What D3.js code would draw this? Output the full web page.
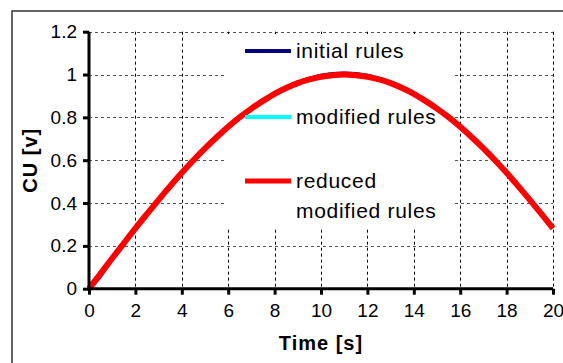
<!DOCTYPE html>
<html>
<head>
<meta charset="utf-8">
<script src="https://cdn.jsdelivr.net/npm/d3@7"></script>
<style>
  html, body { margin: 0; padding: 0; background: #fff; }
  svg { display: block; font-family: "Liberation Sans", Arial, sans-serif; }
</style>
</head>
<body>
<svg id="chart" width="563" height="363"></svg>
<script>
// Time samples [s]
const time = [0,0.5,1,1.5,2,2.5,3,3.5,4,4.5,5,5.5,6,6.5,7,7.5,8,8.5,9,9.5,10,
              10.5,11,11.5,12,12.5,13,13.5,14,14.5,15,15.5,16,16.5,17,17.5,18,18.5,19,19.5,20];
// Controller output for each rule set
const initialRules  = [0,0.062,0.142,0.212,0.282,0.349,0.415,0.479,0.541,0.600,0.655,0.707,0.756,0.801,0.841,0.877,0.912,0.940,0.963,0.980,0.994,
                       1.003,1.005,1.003,0.994,0.980,0.963,0.940,0.912,0.877,0.841,0.801,0.756,0.707,0.655,0.600,0.541,0.479,0.415,0.349,0.282];
const modifiedRules = [0,0.071,0.142,0.212,0.282,0.349,0.415,0.479,0.541,0.600,0.655,0.707,0.756,0.801,0.841,0.877,0.910,0.937,0.960,0.977,0.990,
                       0.997,1.0,0.997,0.990,0.977,0.960,0.937,0.910,0.877,0.841,0.801,0.756,0.707,0.655,0.600,0.541,0.479,0.415,0.349,0.282];
const reducedRules  = [0,0.071,0.142,0.212,0.282,0.349,0.415,0.479,0.541,0.600,0.655,0.707,0.756,0.801,0.841,0.877,0.910,0.937,0.960,0.977,0.990,
                       0.997,1.0,0.997,0.990,0.977,0.960,0.937,0.910,0.877,0.841,0.801,0.756,0.707,0.655,0.600,0.541,0.479,0.415,0.349,0.282];

const xTicks = [0,2,4,6,8,10,12,14,16,18,20];
const yTicks = [0,0.2,0.4,0.6,0.8,1,1.2];
const legendNames = ["initial rules", "modified rules", "reduced\nmodified rules"];
const seriesColors = ["#000080", "#00ffff", "#ff0000"];

const svg = d3.select("#chart");
const x = d3.scaleLinear().domain([0, 20]).range([89, 553]);
const y = d3.scaleLinear().domain([0, 1.2]).range([288.7, 31.7]);

// outer frame (left and top edges visible)
svg.append("path")
  .attr("d", "M12,363 L12,11 L563,11")
  .attr("fill", "none").attr("stroke", "#333").attr("stroke-width", 1.5);

// gridlines
const grid = svg.append("g");
grid.selectAll(".hg").data(yTicks.filter(d => d > 0)).join("line")
  .attr("x1", x(0)).attr("x2", x(20))
  .attr("y1", d => Math.round(y(d)) + 0.5).attr("y2", d => Math.round(y(d)) + 0.5)
  .attr("stroke", "#555").attr("stroke-width", 1).attr("stroke-dasharray", "3,3");
grid.selectAll(".vg").data(xTicks.filter(d => d > 0)).join("line")
  .attr("x1", d => Math.round(x(d)) + 0.5).attr("x2", d => Math.round(x(d)) + 0.5)
  .attr("y1", y(1.2)).attr("y2", y(0))
  .attr("stroke", "#000").attr("stroke-width", 1).attr("stroke-dasharray", "3,3");

// legend background box hides the grid behind it
svg.append("rect")
  .attr("x", 225).attr("y", 34).attr("width", 230).attr("height", 195)
  .attr("fill", "#fff");

// series lines
const line = d3.line().x((d, i) => x(time[i])).y(d => y(d)).curve(d3.curveMonotoneX);
const series = [initialRules, modifiedRules, reducedRules];
const widths = [4, 4, 6];
series.forEach((s, k) => {
  svg.append("path").datum(s)
    .attr("d", line)
    .attr("fill", "none")
    .attr("stroke", seriesColors[k])
    .attr("stroke-width", widths[k])
    .attr("stroke-linejoin", "round");
});

// legend entries
const legendY = [51, 117, 181];
legendNames.forEach((name, k) => {
  svg.append("line")
    .attr("x1", 245).attr("x2", 291)
    .attr("y1", legendY[k]).attr("y2", legendY[k])
    .attr("stroke", seriesColors[k]).attr("stroke-width", k === 2 ? 5 : 4);
  const t = svg.append("text")
    .attr("x", 296).attr("y", legendY[k] + 6.5)
    .attr("font-size", 21).attr("letter-spacing", 0.7).attr("fill", "#000");
  name.split("\n").forEach((part, j) => {
    t.append("tspan").attr("x", 296).attr("dy", j === 0 ? 0 : 30).text(part);
  });
});

// axes
const yAxis = d3.axisLeft(y).tickValues(yTicks).tickSize(6).tickPadding(6)
  .tickFormat(d => d3.format("")(+d.toFixed(1)));
const xAxis = d3.axisBottom(x).tickValues(xTicks).tickSize(6).tickPadding(9)
  .tickFormat(d3.format("d"));

const gy = svg.append("g").attr("transform", `translate(${x(0)},0)`).call(yAxis);
const gx = svg.append("g").attr("transform", `translate(0,${y(0)})`).call(xAxis);
[gy, gx].forEach(g => {
  g.select(".domain").attr("stroke", "#000").attr("stroke-width", 3)
   .attr("d", g === gy ? `M0,${y(0)}V${y(1.2)}` : `M${x(0)},0H${x(20)}`);
  g.selectAll(".tick line").attr("stroke", "#000").attr("stroke-width", 3);
  g.selectAll(".tick text").attr("font-size", 19).attr("fill", "#000")
   .attr("font-family", "'Liberation Sans', Arial, sans-serif");
});

// axis titles
svg.append("text")
  .attr("x", x(10)).attr("y", 350)
  .attr("text-anchor", "middle").attr("font-size", 20).attr("font-weight", "bold")
  .attr("letter-spacing", 1)
  .text("Time [s]");
svg.append("text")
  .attr("transform", `translate(37,${(y(0) + y(1.2)) / 2}) rotate(-90)`)
  .attr("text-anchor", "middle").attr("font-size", 20).attr("font-weight", "bold")
  .attr("letter-spacing", 1)
  .text("CU [v]");
</script>
</body>
</html>
